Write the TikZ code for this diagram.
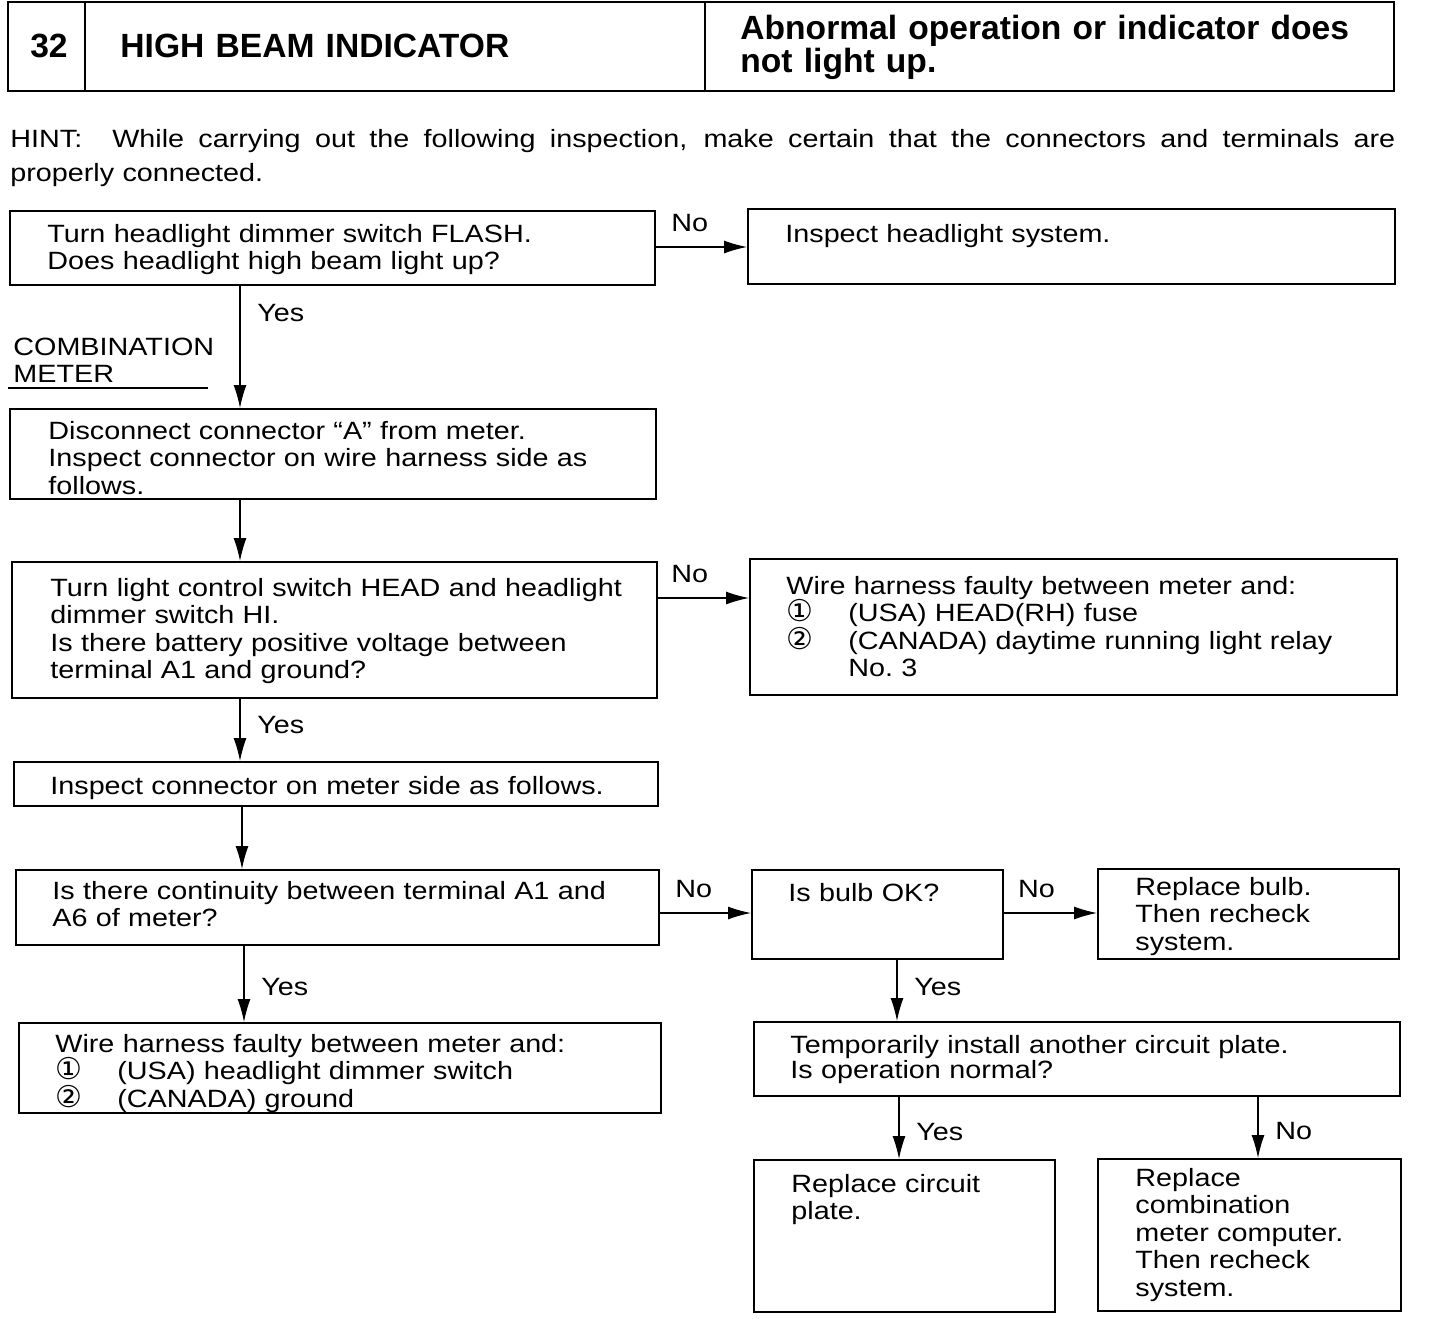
\documentclass[tikz,border=0pt]{standalone}
\usepackage{fontspec}
\setmainfont{Liberation Sans}[FakeStretch=1.15]
\newfontfamily\headfont{Liberation Sans}
\newfontfamily\symfont{DejaVu Sans}
\newcommand{\circnum}[1]{\makebox[31pt][l]{\symfont\fontsize{15}{13.75}\selectfont #1}}
\usetikzlibrary{arrows.meta,fit}

\begin{document}
\begin{tikzpicture}[x=0.5pt,y=-0.5pt,
  box/.style={draw,line width=1pt,inner sep=0pt},
  txt/.style={anchor=base west,inner sep=0pt,align=left,text width=330pt,font=\fontsize{12.5}{13.75}\selectfont},
  lbl/.style={font=\fontsize{12.5}{13.75}\selectfont},
  arr/.style={line width=0.6pt,-{Latex[length=11.5pt,width=6.5pt]}},
  head/.style={anchor=base west,inner sep=0pt,align=left,text width=340pt,font=\headfont\bfseries\fontsize{16.8}{16.5}\selectfont}]
  \useasboundingbox (0,0) rectangle (1440,1318);

  %cabecalho
  \node[box,fit={(8,2) (1394,91)}] (hd) {};
  \draw[line width=1pt] (85,0 |- hd.north) -- (85,0 |- hd.south);
  \draw[line width=1pt] (705,0 |- hd.north) -- (705,0 |- hd.south);
  \node[head,text width=,anchor=base] (num) at (49,57) {32};
  \node[head] (title) at (120,57) {HIGH BEAM INDICATOR};
  \node[head] (sympt) at (740,39) {Abnormal operation or indicator does\\not light up.};

  %dica
  \node[txt,text width=700pt,font=\fontsize{12.5}{17}\selectfont] (hint) at (10,147)
    {\makebox[692.5pt][s]{\spaceskip=0.28em plus 1fill HINT:\hspace{15pt}While carrying out the following inspection, make certain that the connectors and terminals are}\\properly connected.};

  %caixas
  \node[box,fit={(10,211) (655,285)}] (b1) {};
  \node[box,fit={(748,209) (1395,284)}] (b2) {};
  \node[box,fit={(10,409) (656,499)}] (b3) {};
  \node[box,fit={(12,562) (657,698)}] (b4) {};
  \node[box,fit={(750,559) (1397,695)}] (b5) {};
  \node[box,fit={(14,762) (658,806)}] (b6) {};
  \node[box,fit={(16,870) (659,945)}] (b7) {};
  \node[box,fit={(752,870) (1003,959)}] (b8) {};
  \node[box,fit={(1098,869) (1399,959)}] (b9) {};
  \node[box,fit={(754,1022) (1400,1096)}] (b10) {};
  \node[box,fit={(19,1023) (661,1113)}] (b11) {};
  \node[box,fit={(754,1160) (1055,1312)}] (b12) {};
  \node[box,fit={(1098,1159) (1401,1311)}] (b13) {};

  %textos
  \node[txt] (t1) at (47,242) {Turn headlight dimmer switch FLASH.\\Does headlight high beam light up?};
  \node[txt] (t2) at (785,242) {Inspect headlight system.};
  \node[txt] (comb) at (13,355) {COMBINATION\\METER};
  \draw[line width=0.6pt] (8,388) -- (208,388);
  \node[txt] (t3) at (48,439) {Disconnect connector ``A'' from meter.\\Inspect connector on wire harness side as\\follows.};
  \node[txt] (t4) at (50,596) {Turn light control switch HEAD and headlight\\dimmer switch HI.\\Is there battery positive voltage between\\terminal A1 and ground?};
  \node[txt] (t5) at (786,594) {Wire harness faulty between meter and:\\
    \circnum{①}(USA) HEAD(RH) fuse\\
    \circnum{②}(CANADA) daytime running light relay\\
    \hspace*{31pt}No.\ 3};
  \node[txt] (t6) at (50,794) {Inspect connector on meter side as follows.};
  \node[txt] (t7) at (52,899) {Is there continuity between terminal A1 and\\A6 of meter?};
  \node[txt] (t8) at (788,901) {Is bulb OK?};
  \node[txt] (t9) at (1135,895) {Replace bulb.\\Then recheck\\system.};
  \node[txt,font=\fontsize{12.5}{11.5}\selectfont] (t10) at (790,1053) {Temporarily install another circuit plate.\\Is operation normal?};
  \node[txt] (t11) at (55,1052) {Wire harness faulty between meter and:\\
    \circnum{①}(USA) headlight dimmer switch\\
    \circnum{②}(CANADA) ground};
  \node[txt] (t12) at (791,1192) {Replace circuit\\plate.};
  \node[txt] (t13) at (1135,1186) {Replace\\combination\\meter computer.\\Then recheck\\system.};

  %setas
  \draw[arr] (b1.east |- 0,247) -- node[lbl,pos=.37,above=4pt] {No} (b2.west |- 0,247);
  \draw[arr] (240,0 |- b1.south) -- node[lbl,pos=.22,right=5pt] {Yes} (240,0 |- b3.north);
  \draw[arr] (240,0 |- b3.south) -- (240,0 |- b4.north);
  \draw[arr] (b4.east |- 0,598) -- node[lbl,pos=.35,above=4pt] {No} (b5.west |- 0,598);
  \draw[arr] (240,0 |- b4.south) -- node[lbl,pos=.42,right=5pt] {Yes} (240,0 |- b6.north);
  \draw[arr] (242,0 |- b6.south) -- (242,0 |- b7.north);
  \draw[arr] (b7.east |- 0,913) -- node[lbl,pos=.37,above=4pt] {No} (b8.west |- 0,913);
  \draw[arr] (b8.east |- 0,913) -- node[lbl,pos=.35,above=4pt] {No} (b9.west |- 0,913);
  \draw[arr] (244,0 |- b7.south) -- node[lbl,pos=.54,right=5pt] {Yes} (244,0 |- b11.north);
  \draw[arr] (897,0 |- b8.south) -- node[lbl,pos=.44,right=5pt] {Yes} (897,0 |- b10.north);
  \draw[arr] (899,0 |- b10.south) -- node[lbl,pos=.56,right=5pt] {Yes} (899,0 |- b12.north);
  \draw[arr] (1258,0 |- b10.south) -- node[lbl,pos=.55,right=5pt] {No} (1258,0 |- b13.north);
\end{tikzpicture}
\end{document}
